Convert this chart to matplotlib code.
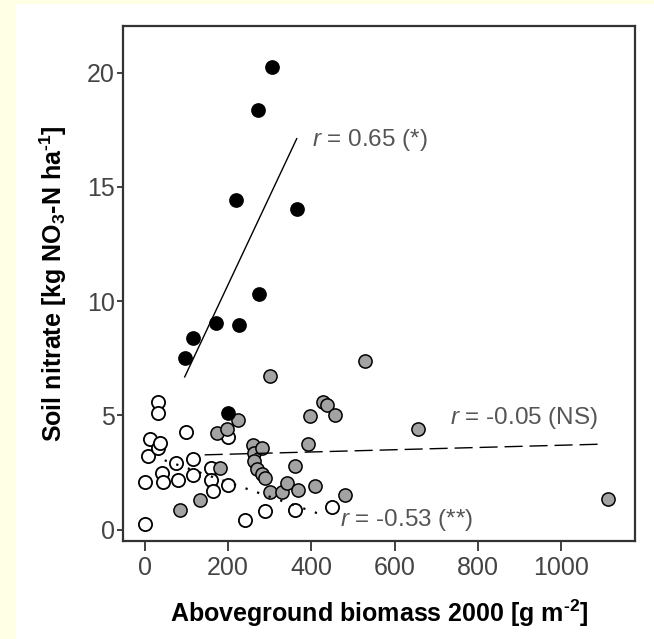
import matplotlib
matplotlib.use('Agg')
import matplotlib.pyplot as plt
from matplotlib.patches import Rectangle

# Точки (биомасса г/м2, нитрат кг/га)
black_x = [96, 116, 170, 227, 199, 218, 272, 275, 305, 365]
black_y = [7.52, 8.38, 9.04, 8.95, 5.12, 14.44, 18.35, 10.29, 20.23, 14.03]

gray_x = [84, 132, 173, 198, 181, 224, 260, 262, 262, 269, 281, 281, 289, 301,
          301, 329, 341, 361, 367, 393, 397, 409, 428, 437, 457, 480, 530, 655, 1113]
gray_y = [0.85, 1.30, 4.22, 4.40, 2.69, 4.78, 3.71, 3.35, 3.00, 2.65, 3.57, 2.45,
          2.25, 6.73, 1.65, 1.65, 2.05, 2.80, 1.73, 3.74, 4.95, 1.89, 5.60, 5.46,
          5.00, 1.52, 7.36, 4.38, 1.33]

open_x = [0, 0, 8, 13, 31, 37, 33, 33, 42, 44, 75, 81, 98, 117, 116, 158, 158,
          165, 199, 199, 241, 288, 361, 449]
open_y = [0.25, 2.08, 3.20, 3.98, 3.57, 3.80, 5.58, 5.12, 2.48, 2.08, 2.92, 2.16,
          4.27, 3.10, 2.40, 2.68, 2.16, 1.68, 1.96, 4.04, 0.41, 0.81, 0.87, 1.00]

# Линии регрессии (концы)
fit_black_x = [96, 365]
fit_black_y = [6.68, 17.11]
fit_gray_x = [144, 1101]
fit_gray_y = [3.27, 3.74]
fit_open_x = [48, 428]
fit_open_y = [3.03, 0.63]

labels = ['0.65 (*)', '-0.05 (NS)', '-0.53 (**)']
label_pos = [(401, 17.05), (732, 4.88), (469, 0.43)]

x_ticks = [0, 200, 400, 600, 800, 1000]
y_ticks = [0, 5, 10, 15, 20]

plt.rcParams['font.family'] = ['Liberation Sans', 'DejaVu Sans']
plt.rcParams['mathtext.fontset'] = 'custom'
plt.rcParams['mathtext.rm'] = 'Liberation Sans'
plt.rcParams['mathtext.it'] = 'Liberation Sans:italic'
plt.rcParams['mathtext.bf'] = 'Liberation Sans:bold'

fig = plt.figure(figsize=(6.54, 6.39), dpi=100, facecolor='white')
# желтая рамка слева и сверху
fig.patches.append(Rectangle((0, 0), 16 / 654, 1, transform=fig.transFigure,
                             facecolor='#FFFFE6', edgecolor='none', zorder=-10))
fig.patches.append(Rectangle((0, 1 - 4 / 639), 1, 4 / 639, transform=fig.transFigure,
                             facecolor='#FFFFE6', edgecolor='none', zorder=-10))
ax = fig.add_axes([0.1881, 0.1534, 0.7829, 0.8059])

ms = 9.5
ax.plot(open_x, open_y, 'o', ms=ms, mfc='white', mec='black', mew=1.3, zorder=3)
ax.plot(gray_x, gray_y, 'o', ms=ms, mfc='#a3a3a3', mec='black', mew=1.1, zorder=4)
ax.plot(black_x, black_y, 'o', ms=ms, mfc='black', mec='black', mew=1.1, zorder=5)

ax.plot(fit_black_x, fit_black_y, '-', color='black', lw=1.0, zorder=6)
ax.plot(fit_gray_x, fit_gray_y, color='black', lw=1.0, ls=(0, (13, 5)), zorder=6)
ax.plot(fit_open_x, fit_open_y, color='black', lw=1.6, ls=(0, (1, 4.5)), zorder=6)

for lab, (tx, ty) in zip(labels, label_pos):
    ax.text(tx, ty, r'$\mathit{r}$ = ' + lab, fontsize=17.5, color='#555555',
            ha='left', va='center', zorder=7)

ax.set_xlim(-52, 1177)
ax.set_ylim(-0.5, 22.04)
ax.set_xticks(x_ticks)
ax.set_yticks(y_ticks)
ax.tick_params(axis='x', direction='out', length=7, width=1.3, pad=3.5,
               labelsize=18, labelcolor='#444444', color='#333333')
ax.tick_params(axis='y', direction='out', length=4, width=1.3, pad=2,
               labelsize=18, labelcolor='#444444', color='#333333')
for sp in ax.spines.values():
    sp.set_linewidth(1.6)
    sp.set_color('#333333')

plt.rcParams['mathtext.default'] = 'regular'
ax.set_xlabel('Aboveground biomass 2000 [g m$^{\u20102}$]', fontsize=18,
              fontweight='bold', labelpad=13)
ax.set_ylabel('Soil nitrate [kg NO$_{3}$-N ha$^{\u20101}$]', fontsize=18,
              fontweight='bold', labelpad=13)

fig.savefig('out.png', dpi=100)
